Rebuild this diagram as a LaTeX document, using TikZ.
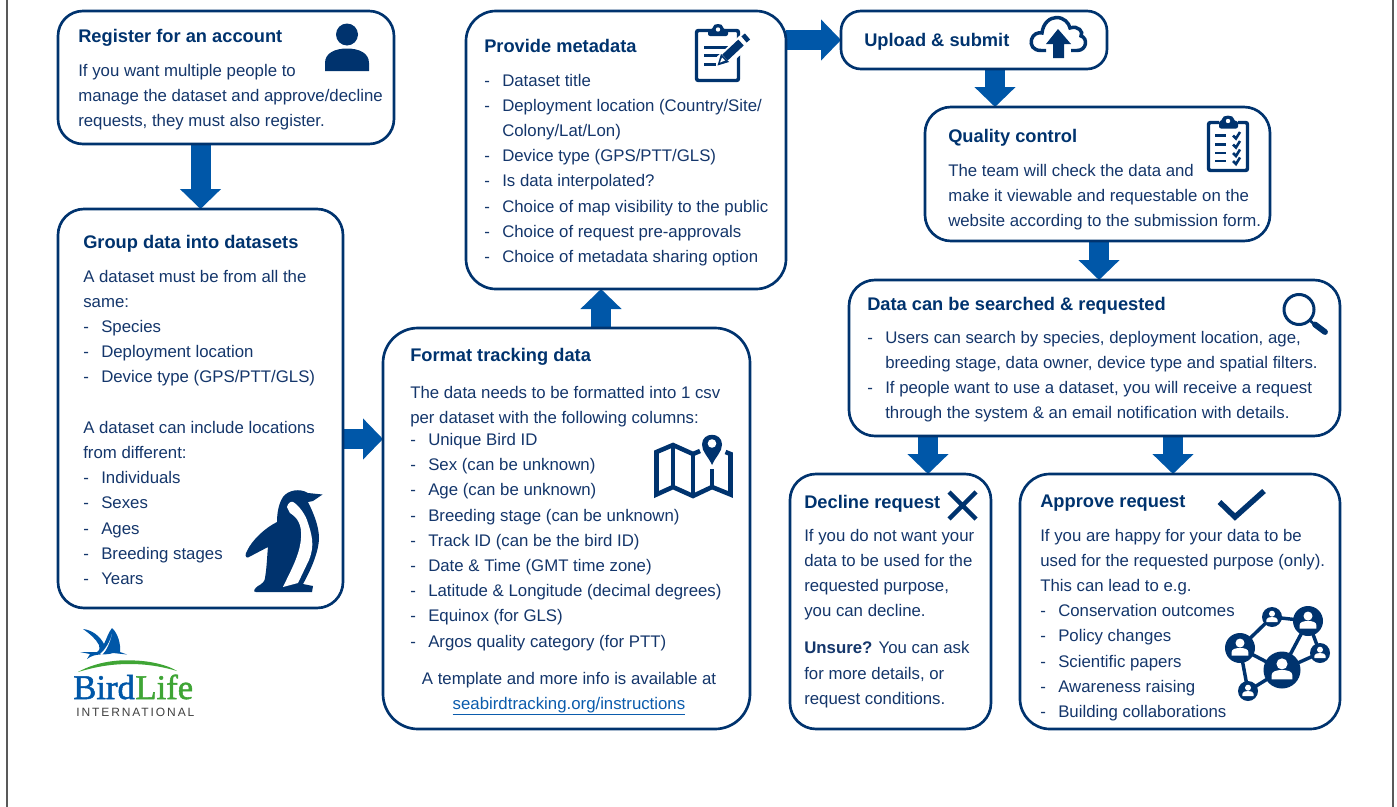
\documentclass[tikz,border=0pt]{standalone}
\usepackage{fontspec}
\setmainfont{Liberation Sans}
\newfontfamily\logoserif[FakeBold=1.5]{Liberation Serif}
\newfontfamily\logosans[LetterSpace=16]{Liberation Sans}
\usetikzlibrary{arrows.meta,backgrounds}
\definecolor{navy}{HTML}{00336E}
\definecolor{flowblue}{HTML}{0057A8}
\definecolor{bodytxt}{HTML}{14366B}
\definecolor{linkblue}{HTML}{0B5CAD}
\definecolor{framegray}{HTML}{595959}
\definecolor{logogreen}{HTML}{3FA535}
\newdimen\px \px=0.75pt
\newcommand\fsbody{\fontsize{12.6pt}{18.9pt}\selectfont}
\newcommand\fstitle{\fontsize{13.7pt}{18.9pt}\selectfont\bfseries}
\newcommand\bl[1]{\makebox[18\px][l]{-}#1\\}
\newcommand\ct[1]{\hspace*{18\px}#1\\}
\newcommand\blk[2]{\parbox[t]{#1\px}{\fsbody\setlength\parindent{0pt}\setlength\baselineskip{25.2\px}\setlength\lineskiplimit{-100pt}\raggedright #2\par}}
\newcommand\boxat[6]{\node[flowbox,minimum width={(#4-#2-2)*0.75pt},minimum height={(#5-#3-2)*0.75pt},rounded corners={#6*0.75pt}] (#1) at ({(#2+#4)/2},{(#3+#5)/2}) {};}
\tikzset{
 flowbox/.style={draw=navy,fill=white,line width=2pt,inner sep=0pt,outer sep=0pt},
 flow/.style={draw=flowblue,line width=15pt,-{Triangle[width=30pt,length=15pt,fill=flowblue]}},
 title/.style={anchor=base west,inner sep=0pt,text=navy,font=\fstitle},
 txt/.style={anchor=base west,inner sep=0pt,text=bodytxt},
 centred/.style={anchor=base,inner sep=0pt,text=bodytxt,font=\fsbody},
 iconline/.style={draw=navy,line width=2.6pt,fill=none},
 netp/.pic={
  \fill[navy] (0,0) circle (1);
  \fill[white] (0,-.33) circle (.3);
  \fill[white] (-.56,.5) -- (-.56,.28) .. controls (-.56,.08) and (-.3,0) .. (0,0) .. controls (.3,0) and (.56,.08) .. (.56,.28) -- (.56,.5) -- cycle;
 }
}
\begin{document}
\begin{tikzpicture}[x=0.75pt,y=-0.75pt]
\useasboundingbox (0,0) rectangle (1397,807);
% frame
\draw[framegray,line width=1.5pt] (7,0) -- (7,807);
\draw[framegray,line width=1.5pt] (1393,0) -- (1393,807);
% boxes
\boxat{reg}{57}{10}{395}{145}{25}
\boxat{grp}{57}{208}{344}{609}{26}
\boxat{meta}{465}{10}{787}{290}{30}
\boxat{fmt}{382}{327}{751}{730}{35}
\boxat{up}{840}{10}{1108}{70}{20}
\boxat{qc}{924}{106}{1271}{242}{26}
\boxat{srch}{848}{279}{1341}{437}{26}
\boxat{dec}{789}{473}{992}{730}{26}
\boxat{app}{1019}{473}{1341}{730}{30}
% connectors
\coordinate (ya) at (0,439);
\coordinate (xa) at (601,0);
\coordinate (xb) at (995,0);
\coordinate (xc) at (1099,0);
\coordinate (xd) at (928,0);
\coordinate (xe) at (1173,0);
\begin{pgfonlayer}{background}
\draw[flow] (reg.south -| grp.north) -- (grp.north);
\draw[flow] (grp.east |- ya) -- (fmt.west |- ya);
\draw[flow] (fmt.north -| xa) -- (meta.south -| xa);
\draw[flow] (meta.east |- up.west) -- (up.west);
\draw[flow] (up.south -| xb) -- (qc.north -| xb);
\draw[flow] (qc.south -| xc) -- (srch.north -| xc);
\draw[flow] (srch.south -| xd) -- (dec.north -| xd);
\draw[flow] (srch.south -| xe) -- (app.north -| xe);
\end{pgfonlayer}
% titles
\node[title] (t1) at (78,42) {Register for an account};
\node[title] (t2) at (83,248) {Group data into datasets};
\node[title] (t3) at (484,52) {Provide metadata};
\node[title] (t4) at (410,361) {Format tracking data};
\node[title] (t5) at (864,46) {Upload \& submit};
\node[title] (t6) at (948,142) {Quality control};
\node[title] (t7) at (867,310) {Data can be searched \& requested};
\node[title] (t8) at (804,508) {Decline request};
\node[title] (t9) at (1040,507) {Approve request};
% bodies
\node[txt] (b1) at (78,76) {\blk{320}{If you want multiple people to\\manage the dataset and approve/decline\\requests, they must also register.}};
\node[txt] (b2) at (83,282) {\blk{255}{A dataset must be from all the\\same:\\\bl{Species}\bl{Deployment location}\bl{Device type (GPS/PTT/GLS)}\mbox{}\\A dataset can include locations\\from different:\\\bl{Individuals}\bl{Sexes}\bl{Ages}\bl{Breeding stages}\bl{Years}}};
\node[txt] (b3) at (484,86) {\blk{295}{\bl{Dataset title}\bl{Deployment location (Country/Site/}\ct{Colony/Lat/Lon)}\bl{Device type (GPS/PTT/GLS)}\bl{Is data interpolated?}\bl{Choice of map visibility to the public}\bl{Choice of request pre-approvals}\bl{Choice of metadata sharing option}}};
\node[txt] (b4) at (410,398) {\blk{330}{The data needs to be formatted into 1 csv\\per dataset with the following columns:\\[-3\px]\bl{Unique Bird ID}\bl{Sex (can be unknown)}\bl{Age (can be unknown)}\bl{Breeding stage (can be unknown)}\bl{Track ID (can be the bird ID)}\bl{Date \& Time (GMT time zone)}\bl{Latitude \& Longitude (decimal degrees)}\bl{Equinox (for GLS)}\bl{Argos quality category (for PTT)}}};
\node[centred] (b4a) at (569,684) {A template and more info is available at};
\node[centred,text=linkblue] (b4b) at (569,709) {\underline{seabirdtracking.org/instructions}};
\node[txt] (b6) at (948,176) {\blk{325}{The team will check the data and\\make it viewable and requestable on the\\website according to the submission form.}};
\node[txt] (b7) at (867,343) {\blk{465}{\bl{Users can search by species, deployment location, age,}\ct{breeding stage, data owner, device type and spatial filters.}\bl{If people want to use a dataset, you will receive a request}\ct{through the system \& an email notification with details.}}};
\node[txt] (b8) at (804,541) {\blk{180}{If you do not want your\\data to be used for the\\requested purpose,\\you can decline.\\[12\px]{\bfseries Unsure?} You can ask\\for more details, or\\request conditions.}};
\node[txt] (b9) at (1040,541) {\blk{295}{If you are happy for your data to be\\used for the requested purpose (only).\\This can lead to e.g.\\\bl{Conservation outcomes}\bl{Policy changes}\bl{Scientific papers}\bl{Awareness raising}\bl{Building collaborations}}};
% person icon
\fill[navy] (347,34.5) circle (11);
\fill[navy] (325,71) -- (325,63) .. controls (325,53) and (335,48.5) .. (347,48.5) .. controls (359,48.5) and (369,53) .. (369,63) -- (369,71) -- cycle;
% clipboard + pencil
\draw[iconline,rounded corners=1.5] (711,30.5) -- (696.5,30.5) -- (696.5,80.5) -- (738.5,80.5) -- (738.5,30.5) -- (725,30.5);
\fill[navy,rounded corners=1.5] (708,36) -- (708,29) -- (713,29) .. controls (713,23) and (723,23) .. (723,29) -- (728,29) -- (728,36) -- cycle;
\fill[white] (718,29.5) circle (2.2);
\draw[navy,line width=2.25pt] (704,47) -- (730,47) (704,55.5) -- (727,55.5) (704,64) -- (716,64);
\draw[white,line width=11pt] (722,62) -- (750,36);
\draw[navy,line width=6pt] (725,57.5) -- (741,42.5);
\draw[navy,line width=6pt] (744,39.5) -- (747.5,36.5);
\fill[navy] (717.5,65.5) -- (721,54) -- (729,62) -- cycle;
\fill[white] (720,62.5) -- (722,57.5) -- (725,60.5) -- cycle;
% cloud upload
\draw[iconline] (1046,50.5) -- (1041,50.5) .. controls (1033,50.5) and (1030,45) .. (1031.5,39.5) .. controls (1033,34) and (1038,32) .. (1042,33) .. controls (1043,23) and (1050,17.5) .. (1056.5,17.5) .. controls (1064,17.5) and (1069,23) .. (1070,28) .. controls (1078,25) and (1084,32) .. (1081,36) .. controls (1088,38) and (1087,50.5) .. (1077,50.5) -- (1071,50.5);
\fill[navy] (1058,29) -- (1071,44) -- (1064,44) -- (1064,58) -- (1053,58) -- (1053,44) -- (1046,44) -- cycle;
% QC clipboard
\draw[iconline,rounded corners=1.5] (1219,122.5) -- (1208.5,122.5) -- (1208.5,170.5) -- (1247.5,170.5) -- (1247.5,122.5) -- (1238,122.5);
\fill[navy,rounded corners=1.5] (1219,128.5) -- (1219,121) -- (1222,121) .. controls (1222,114.5) and (1234,114.5) .. (1234,121) -- (1238,121) -- (1238,128.5) -- cycle;
\fill[white] (1228,121) circle (2.2);
\foreach \yy in {135.5,144.5,153,161}{
 \draw[navy,line width=1.9pt] (1215,\yy) -- (1226,\yy);
 \draw[navy,line width=1.9pt] (1233,\yy) -- (1236,\yy+3) -- (1240,\yy-3.5);
}
% magnifier
\draw[navy,line width=2.25pt] (1299,309.5) circle (15);
\draw[navy,line width=2pt] (1310,320.5) -- (1315,325);
\draw[navy,line width=4.4pt,line cap=round] (1315,324.5) -- (1325,332);
% map icon
\draw[navy,line width=3.4pt,line join=miter] (700,451) -- (693,454) -- (673,445) -- (656.5,452) -- (656.5,494.5) -- (673,487) -- (693,496) -- (712,487) -- (730.5,494.5) -- (730.5,454) -- (725.5,452);
\draw[navy,line width=3.4pt] (673,445) -- (673,487) (693,454) -- (693,496) (712,469) -- (712,487);
\fill[navy] (712,465) .. controls (708,456) and (702,452) .. (702,444.5) .. controls (702,431.5) and (722,431.5) .. (722,444.5) .. controls (722,452) and (716,456) .. (712,465) -- cycle;
\fill[white] (712,443.5) circle (4.3);
% penguin
\fill[navy] (322.5,494.5) -- (313,501) -- (308,502) .. controls (312,510) and (319,525) .. (319,538) .. controls (319,550) and (312,568) .. (303,584) -- (313,586) -- (312,592) -- (256,592) .. controls (252,592) and (255,588) .. (258,586) .. controls (262,584) and (265,581) .. (265,578) .. controls (267,566) and (267,556) .. (268,547) -- (248,557.5) .. controls (245,558) and (245,554) .. (247,551) .. controls (252,540) and (265,528) .. (277,522) .. controls (277,512) and (279,503) .. (283,497) .. controls (288,490) and (300,488) .. (308,493) -- cycle;
\fill[white] (287,507) .. controls (288,503) and (291,501) .. (293,502) .. controls (297,504) and (304,512) .. (307,520) .. controls (312,535) and (315,545) .. (309,560) -- (298,583) -- (283,587) .. controls (290,572) and (300,555) .. (301,538) .. controls (302,525) and (298,518) .. (290,513) -- cycle;
% check and cross
\draw[navy,line width=4.1pt] (1219.5,502) -- (1235,517) -- (1264,491);
\draw[navy,line width=3.4pt] (949,492) -- (976,519) (976,492) -- (949,519);
% network
\draw[navy,line width=2.6pt] (1248,691) -- (1240,648) -- (1272,617) -- (1308,621) -- (1282,670) -- (1248,691) (1240,648) -- (1282,670) -- (1320,653) -- (1308,621);
\pic[scale=18.5] at (1282,670) {netp};
\pic[scale=15] at (1308,621) {netp};
\pic[scale=15] at (1240,648) {netp};
\pic[scale=10] at (1272,617) {netp};
\pic[scale=10] at (1320,653) {netp};
\pic[scale=10] at (1248,691) {netp};
% BirdLife logo
\fill[flowblue] (83,629) .. controls (92,630) and (100,636) .. (104,644) .. controls (107,638) and (108,633) .. (112,628) .. controls (118,633) and (121,645) .. (120,652) -- (127,654.5) -- (113,653) .. controls (105,656) and (96,652) .. (87,659) -- (90,654) -- (80,652) -- (97,652) .. controls (100,650) and (100,648) .. (99,645) .. controls (96,639) and (90,634) .. (83,629) -- cycle;
\fill[white] (100,654) .. controls (105,650) and (110,642) .. (112,634) .. controls (110,642) and (107,650) .. (102,655) -- cycle;
\fill[logogreen] (78,672) .. controls (98,661) and (120,659.5) .. (135,660.5) .. controls (150,661) and (168,665) .. (177,671) .. controls (160,666) and (145,664) .. (130,664) .. controls (110,664) and (95,667) .. (78,672) -- cycle;
\node[anchor=base west,inner sep=0pt,text=flowblue,font=\logoserif\fontsize{26pt}{26pt}\selectfont] (lg1) at (73,699) {Bird};
\node[anchor=base west,inner sep=0pt,text=logogreen,font=\logoserif\fontsize{26pt}{26pt}\selectfont] (lg2) at (lg1.base east) {Life};
\node[anchor=base west,inner sep=0pt,text=black!75,font=\logosans\fontsize{9pt}{9pt}\selectfont] (lg3) at (76,716) {INTERNATIONAL};
\end{tikzpicture}
\end{document}
